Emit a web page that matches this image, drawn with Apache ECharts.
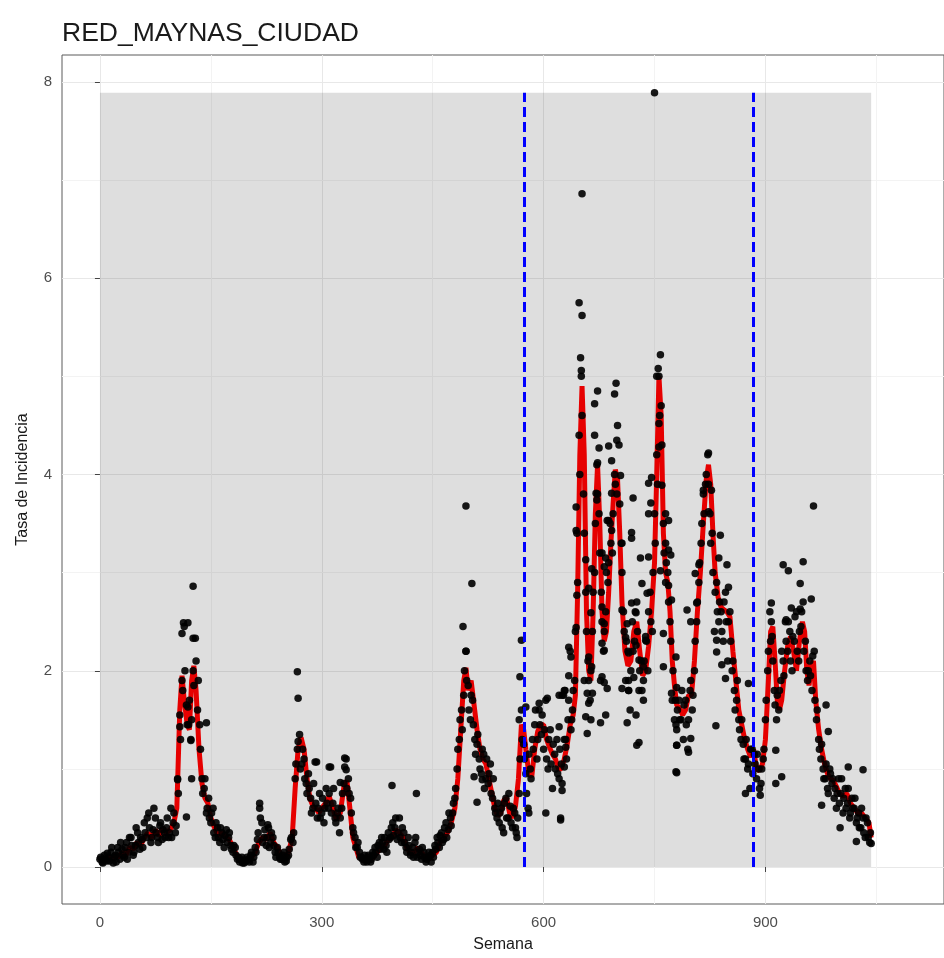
<!DOCTYPE html>
<html>
<head>
<meta charset="utf-8">
<script src="https://cdn.jsdelivr.net/npm/echarts@6/dist/echarts.min.js"></script>
<style>
html,body{margin:0;padding:0;background:#fff;}
#chart{width:944px;height:958px;}
</style>
</head>
<body>
<div id="chart"></div>
<script>
// ---- DATA ----
const titleText = 'RED_MAYNAS_CIUDAD';
const xTicks = [0, 300, 600, 900];
const yTicks = [0, 2, 4, 6, 8];
const xMinor = [150, 450, 750, 1050];
const yMinor = [1, 3, 5, 7];

// smoothed curve (red)
const lineWeeks = [0,5,10,15,20,25,30,35,40,45,50,55,60,65,70,75,80,85,90,95,100,104,108,111,114,118,121,124,127,130,134,138,142,146,150,155,160,165,170,175,180,185,190,195,200,205,210,215,220,225,230,235,240,245,250,255,260,264,268,272,276,280,284,288,292,296,300,305,310,315,320,325,330,334,338,342,346,350,355,360,365,370,375,380,385,390,395,400,405,410,415,420,425,430,435,440,445,450,455,460,465,470,475,480,484,488,492,495,498,502,506,510,514,518,522,526,530,534,538,542,546,550,554,558,562,566,570,573,576,580,584,588,592,596,600,604,608,612,616,620,624,628,632,636,640,643,646,649,652,655,658,661,664,667,670,673,676,679,682,685,688,691,694,697,700,703,706,710,714,718,722,726,730,734,738,742,746,750,753,756,759,762,765,768,771,774,777,780,784,788,792,796,800,804,808,812,816,820,823,826,829,832,836,840,844,848,852,856,860,864,868,872,876,880,884,888,892,896,900,904,907,910,913,916,919,922,926,930,934,938,942,946,950,953,956,959,962,965,968,972,976,980,984,988,992,996,1000,1005,1010,1015,1020,1025,1030,1035,1040,1043];
const lineRates = [0.08,0.07,0.1,0.08,0.12,0.1,0.15,0.12,0.2,0.18,0.25,0.22,0.3,0.35,0.3,0.38,0.32,0.4,0.35,0.38,0.45,0.6,1.6,1.95,1.7,1.45,1.4,1.9,2.05,1.8,1.2,0.85,0.7,0.65,0.5,0.4,0.32,0.35,0.3,0.28,0.2,0.12,0.08,0.07,0.08,0.1,0.15,0.25,0.3,0.28,0.35,0.25,0.2,0.12,0.1,0.15,0.3,0.8,1.2,1.32,1.2,0.9,0.7,0.62,0.6,0.55,0.6,0.65,0.72,0.6,0.48,0.55,0.82,0.88,0.6,0.3,0.2,0.1,0.08,0.06,0.08,0.1,0.15,0.2,0.22,0.28,0.3,0.38,0.35,0.3,0.2,0.14,0.15,0.2,0.15,0.1,0.08,0.12,0.15,0.25,0.3,0.35,0.45,0.6,0.9,1.4,1.9,2.03,1.8,1.9,1.65,1.4,1.2,1.1,1.05,0.9,0.75,0.6,0.52,0.55,0.68,0.7,0.55,0.5,0.62,0.9,1.45,1.4,1.2,0.95,0.92,1.2,1.38,1.45,1.45,1.3,1.22,1.15,1.1,1.0,1.0,1.1,1.25,1.45,1.55,1.75,2.8,4.2,4.9,4.2,2.6,2.0,1.9,2.6,3.6,4.1,3.5,2.6,2.3,2.4,2.8,3.3,3.7,4.05,3.95,3.4,2.7,2.2,2.05,2.1,2.4,2.5,2.2,1.95,2.0,2.25,2.6,3.1,4.0,5.0,4.6,3.4,3.0,2.9,2.6,2.1,1.85,1.65,1.62,1.55,1.6,1.75,1.75,2.1,2.6,3.0,3.5,3.95,4.1,3.9,3.4,3.0,2.75,2.65,2.62,2.6,2.55,2.2,1.9,1.6,1.45,1.3,1.2,1.12,1.2,1.0,0.98,1.05,1.3,1.9,2.4,2.45,2.1,1.7,1.6,1.7,2.0,2.25,2.35,2.2,2.0,2.3,2.5,2.4,2.0,1.85,2.05,2.1,1.7,1.4,1.2,1.05,0.95,0.9,0.88,0.82,0.75,0.72,0.75,0.65,0.6,0.55,0.55,0.5,0.45,0.3];

// observed weekly rates (black points), first set: weeks 0,3,6,...
const dotStep = 3;
const dotRates = [
0.08,0.05,0.12,0.06,0.1,0.15,0.04,0.12,0.2,0.08,
0.18,0.1,0.25,0.15,0.3,0.12,0.22,0.35,0.18,0.28,
0.45,0.3,0.55,0.25,0.38,0.5,0.3,0.42,0.28,0.35,
0.4,0.3,0.6,0.45,0.35,0.9,1.55,1.9,2.45,1.65,
1.45,1.3,2.0,2.33,1.6,1.45,0.9,0.8,0.55,0.7,
0.45,0.6,0.3,0.4,0.25,0.35,0.2,0.38,0.3,0.22,
0.15,0.2,0.08,0.05,0.1,0.04,0.06,0.08,0.12,0.05,
0.2,0.28,0.6,0.45,0.3,0.22,0.4,0.25,0.3,0.15,
0.2,0.1,0.08,0.15,0.06,0.12,0.28,0.25,0.9,1.2,
1.35,1.05,1.1,0.85,0.95,0.7,0.6,1.07,0.5,0.75,
0.55,0.45,0.8,0.6,1.02,0.65,0.5,0.55,0.35,0.6,
0.85,1.1,0.9,0.7,0.4,0.3,0.2,0.15,0.1,0.05,
0.08,0.12,0.05,0.15,0.2,0.1,0.25,0.3,0.18,0.22,
0.35,0.3,0.45,0.4,0.28,0.5,0.25,0.35,0.2,0.3,
0.12,0.2,0.25,0.1,0.18,0.08,0.15,0.05,0.1,0.12,
0.15,0.22,0.3,0.2,0.35,0.28,0.45,0.38,0.5,0.55,
0.7,1.0,1.3,1.6,1.75,2.2,1.85,1.5,1.7,1.3,
1.25,1.1,0.95,1.15,0.9,0.85,1.05,0.7,0.6,0.5,
0.45,0.6,0.35,0.7,0.5,0.62,0.4,0.55,0.3,0.75,
1.6,1.25,0.95,0.6,1.0,1.3,1.45,1.1,1.6,1.35,
1.2,1.7,1.0,1.4,0.8,1.15,1.3,0.9,1.05,1.75,
1.3,1.5,2.2,1.6,1.9,3.4,4.4,5.0,3.8,2.8,
2.1,1.7,2.4,3.0,4.1,3.6,2.8,2.2,2.6,2.9,
3.5,3.2,4.0,3.8,4.3,3.3,2.6,1.9,2.2,1.6,
2.5,2.3,2.7,1.8,2.1,1.9,2.35,2.0,2.8,2.4,
3.6,4.2,5.0,4.7,3.5,2.9,3.0,2.5,1.7,1.5,
1.4,1.7,1.5,1.3,1.7,1.2,1.8,1.6,2.0,2.5,
2.9,3.3,3.8,3.9,4.2,3.6,3.4,2.4,2.9,2.5,
2.6,2.3,2.8,2.1,2.6,2.0,1.8,1.7,1.5,1.3,
1.25,1.1,1.0,0.8,1.2,1.15,0.9,1.0,0.85,1.1,
1.5,2.0,2.6,2.35,1.8,1.5,1.6,1.9,2.1,2.5,
2.2,2.4,2.0,2.3,2.6,2.1,2.45,2.7,2.3,1.9,
2.1,1.8,2.2,1.5,1.3,1.1,1.0,0.9,0.8,1.0,
0.85,0.7,0.6,0.9,0.75,0.55,0.8,0.65,0.5,0.7,
0.6,0.45,0.55,0.4,0.5,0.3,0.45,0.25];

// observed weekly rates, second set: weeks 1,4,7,...
const dotStartB = 1;
const dotRatesB = [
0.1,0.04,0.08,0.14,0.06,0.2,0.1,0.05,0.15,0.25,
0.12,0.2,0.08,0.3,0.22,0.15,0.4,0.25,0.3,0.2,
0.35,0.5,0.4,0.3,0.6,0.35,0.25,0.45,0.38,0.3,
0.5,0.35,0.3,0.55,0.42,0.75,1.3,1.8,2.0,1.45,
1.7,1.5,1.85,2.1,1.9,1.2,0.75,0.9,0.6,0.5,
0.55,0.35,0.45,0.3,0.4,0.28,0.32,0.25,0.35,0.18,
0.22,0.12,0.1,0.08,0.04,0.07,0.1,0.05,0.15,0.1,
0.15,0.35,0.5,0.25,0.38,0.3,0.2,0.35,0.22,0.1,
0.15,0.08,0.12,0.05,0.1,0.18,0.3,0.35,1.05,1.28,
1.0,1.2,0.9,0.75,0.8,0.55,0.85,0.65,0.6,0.5,
0.7,0.6,0.65,0.75,0.55,0.8,0.45,0.6,0.5,0.75,
1.02,0.8,0.75,0.55,0.35,0.2,0.25,0.1,0.08,0.12,
0.05,0.1,0.08,0.12,0.15,0.22,0.18,0.25,0.3,0.15,
0.28,0.4,0.32,0.5,0.35,0.3,0.4,0.25,0.15,0.22,
0.15,0.1,0.3,0.15,0.12,0.2,0.1,0.08,0.15,0.05,
0.1,0.18,0.25,0.32,0.25,0.4,0.3,0.55,0.42,0.65,
0.8,1.2,1.5,1.4,2.0,1.9,1.6,1.75,1.45,1.15,
1.35,1.0,1.2,0.8,1.1,0.95,0.75,0.9,0.55,0.65,
0.55,0.4,0.65,0.5,0.75,0.45,0.6,0.4,0.5,1.1,
1.3,1.1,0.75,1.15,0.9,1.2,1.6,1.3,1.45,1.55,
1.4,1.1,1.3,1.05,1.25,1.0,0.95,1.2,0.85,1.3,
1.1,1.7,1.4,1.8,2.4,2.9,4.0,4.6,3.4,2.4,
1.9,2.0,2.8,3.5,3.8,3.2,2.5,2.4,3.0,3.1,
3.3,3.6,3.9,4.5,3.7,3.0,2.4,2.3,1.9,2.0,
2.2,2.6,2.4,2.0,1.8,2.1,2.3,2.6,2.5,3.0,
3.3,3.9,4.6,4.3,3.2,3.1,2.7,2.3,2.0,1.7,
1.6,1.5,1.8,1.65,1.45,1.5,1.9,1.75,2.3,2.7,
3.1,3.5,3.6,4.0,3.9,3.3,3.0,2.8,2.6,2.7,
2.4,2.7,2.5,2.5,2.3,2.1,1.6,1.9,1.4,1.5,
1.1,1.3,1.05,1.2,0.95,1.05,1.15,0.8,1.0,1.2,
1.7,2.2,2.3,2.1,1.65,1.75,1.8,2.2,1.95,2.3,
2.5,2.1,2.35,2.55,2.2,2.4,2.6,2.2,2.0,2.0,
1.95,2.15,1.7,1.6,1.2,1.25,0.9,1.05,0.75,0.95,
0.9,0.8,0.75,0.65,0.9,0.7,0.6,0.8,0.55,0.6,
0.7,0.5,0.4,0.6,0.35,0.5,0.3,0.35];

// additional observed points (week, rate)
const extraWeeks = [126,113,119,111,126,119,108,144,123,105,124,117,216,227,267,268,293,310,331,333,325,395,428,495,503,491,495,510,506,517,570,568,576,567,594,605,621,629,634,637,634,644,644,580,603,623,563,652,648,652,650,651,750,758,755,753,823,816,827,823,839,837,848,810,805,850,807,794,799,834,834,841,846,877,833,780,799,796,780,873,893,914,908,908,965,924,931,951,947,962,935,947,928,982,985,1012,1032,976,1001,1023,1043,922,914,
673,669,698,696,669,675,673,688,692,699,704,692,721,671,672,644,688,692,706,719,719,731,742,746,742,745,742,756,756,760,765,769,765,769,772,758,769,773,762,779,780,657,665,661,645,679,684,682,686,719,725,733,740,679,664,682,706,713,711,725,738,715,729,735,661,665,679,682,655,677,686,722,715,
628,625,659,666,661,657,664,677,684,659,679,682,706,715,713,725,729,726,735,762,773,779,780,779,621,638,630,628,625,623];
const extraRates = [2.86,2.49,2.49,2.38,2.33,1.63,1.43,1.47,1.29,0.89,0.9,0.51,0.65,0.43,1.99,1.72,1.07,1.02,1.11,0.99,0.86,0.83,0.75,3.68,2.89,2.45,2.2,0.66,0.92,0.89,2.31,1.94,1.63,1.5,1.67,1.72,1.75,1.8,2.24,2.14,1.95,3.43,2.44,0.55,0.55,0.48,0.35,6.86,5.75,5.62,5.19,5.06,7.89,5.22,5.08,5.0,4.22,3.84,3.84,3.62,3.38,3.15,3.08,3.08,2.99,2.85,2.69,2.62,2.5,2.31,2.19,2.06,1.92,1.87,1.44,1.24,1.31,1.17,0.96,0.75,0.73,1.19,2.69,2.5,3.68,3.08,3.02,3.11,2.89,2.73,2.64,2.63,2.52,1.65,1.38,1.02,0.99,0.63,0.4,0.26,0.24,0.92,0.85,
4.85,4.72,4.93,4.82,4.4,4.27,4.12,4.29,4.14,4.35,3.99,3.81,3.76,3.81,3.74,3.67,3.53,3.43,3.3,3.41,3.35,3.15,3.16,3.97,3.91,3.71,3.6,4.52,4.28,3.89,3.6,3.53,3.3,3.23,3.18,3.02,2.87,2.72,2.38,2.14,1.83,3.13,3.04,2.84,2.77,3.2,3.15,3.06,3.53,2.69,2.59,2.89,2.79,2.65,2.59,2.48,2.62,2.48,2.34,2.26,2.31,2.18,2.11,2.04,2.14,2.04,2.28,2.21,1.9,1.9,1.82,1.93,1.8,
1.8,1.75,1.77,1.77,1.67,1.53,1.5,1.47,1.55,1.36,1.94,1.88,1.82,1.8,1.47,1.55,1.27,1.24,1.7,2.04,1.77,1.45,1.24,0.97,1.43,1.5,1.22,1.02,0.78,0.5];

// shaded study window and change-point markers
const rectWeeks = [0, 1043];
const rectRates = [0, 7.89];
const vlineWeeks = [573.5, 884];

// ---- CHART ----
const dotData = dotRates.map((v, i) => [i * dotStep, v])
  .concat(dotRatesB.map((v, i) => [dotStartB + i * dotStep, v]))
  .concat(extraWeeks.map((w, i) => [w, extraRates[i]]));
const lineData = lineWeeks.map((w, i) => [w, lineRates[i]]);

const chart = echarts.init(document.getElementById('chart'), null, {renderer: 'canvas'});
const fontFam = '"Liberation Sans", Arial, sans-serif';
const minorStyle = {color: '#F3F3F3', width: 1, type: 'solid'};

chart.setOption({
  animation: false,
  backgroundColor: '#ffffff',
  title: {
    text: titleText, left: 57, top: 15,
    textStyle: {fontFamily: fontFam, fontSize: 26.5, fontWeight: 'normal', color: '#1a1a1a'}
  },
  grid: {
    left: 62, right: -2, top: 55, bottom: 54,
    show: true, borderColor: '#5a5a5a', borderWidth: 1, backgroundColor: 'transparent'
  },
  xAxis: {
    type: 'value', min: -51.3, max: 1141.5, splitNumber: 4,
    name: 'Semana', nameLocation: 'middle', nameGap: 33,
    nameTextStyle: {fontFamily: fontFam, fontSize: 16, color: '#1a1a1a'},
    axisLine: {show: false},
    axisTick: {show: true, length: 5, lineStyle: {color: '#444'}, customValues: xTicks},
    axisLabel: {fontFamily: fontFam, fontSize: 15, color: '#4D4D4D', margin: 11, customValues: xTicks},
    splitLine: {show: true, lineStyle: {color: '#E8E8E8', width: 1}}
  },
  yAxis: {
    type: 'value', min: -0.377, max: 8.275, splitNumber: 4,
    name: 'Tasa de Incidencia', nameLocation: 'middle', nameGap: 31, nameRotate: 90,
    nameTextStyle: {fontFamily: fontFam, fontSize: 16, color: '#1a1a1a'},
    axisLine: {show: false},
    axisTick: {show: true, length: 5, lineStyle: {color: '#444'}, customValues: yTicks},
    axisLabel: {fontFamily: fontFam, fontSize: 15, color: '#4D4D4D', margin: 10, customValues: yTicks},
    splitLine: {show: true, lineStyle: {color: '#E8E8E8', width: 1}}
  },
  series: [
    {
      name: 'minorGrid', type: 'line', data: [], z: 1, silent: true,
      markLine: {
        silent: true, symbol: 'none', label: {show: false}, lineStyle: minorStyle, z: 1,
        data: xMinor.map(v => ({xAxis: v})).concat(yMinor.map(v => ({yAxis: v})))
      }
    },
    {
      name: 'window', type: 'line', data: [], z: 2, silent: true,
      markArea: {
        silent: true, z: 2, itemStyle: {color: 'rgba(0,0,0,0.13)'},
        data: [[{coord: [rectWeeks[0], rectRates[0]]}, {coord: [rectWeeks[1], rectRates[1]]}]]
      }
    },
    {
      name: 'suavizado', type: 'line', data: lineData, z: 3,
      showSymbol: false, symbol: 'none', smooth: false,
      lineStyle: {color: '#E60000', width: 5}
    },
    {
      name: 'observado', type: 'scatter', data: dotData, z: 4,
      symbolSize: 7.5, itemStyle: {color: '#000000', opacity: 0.9}
    },
    {
      name: 'cortes', type: 'line', data: [], z: 5, silent: true,
      markLine: {
        silent: true, symbol: 'none', label: {show: false}, z: 6,
        lineStyle: {color: '#0000FF', width: 3, type: [10, 5]},
        data: vlineWeeks.map(w => [{coord: [w, rectRates[0]]}, {coord: [w, rectRates[1]]}])
      }
    }
  ]
});
</script>
</body>
</html>
